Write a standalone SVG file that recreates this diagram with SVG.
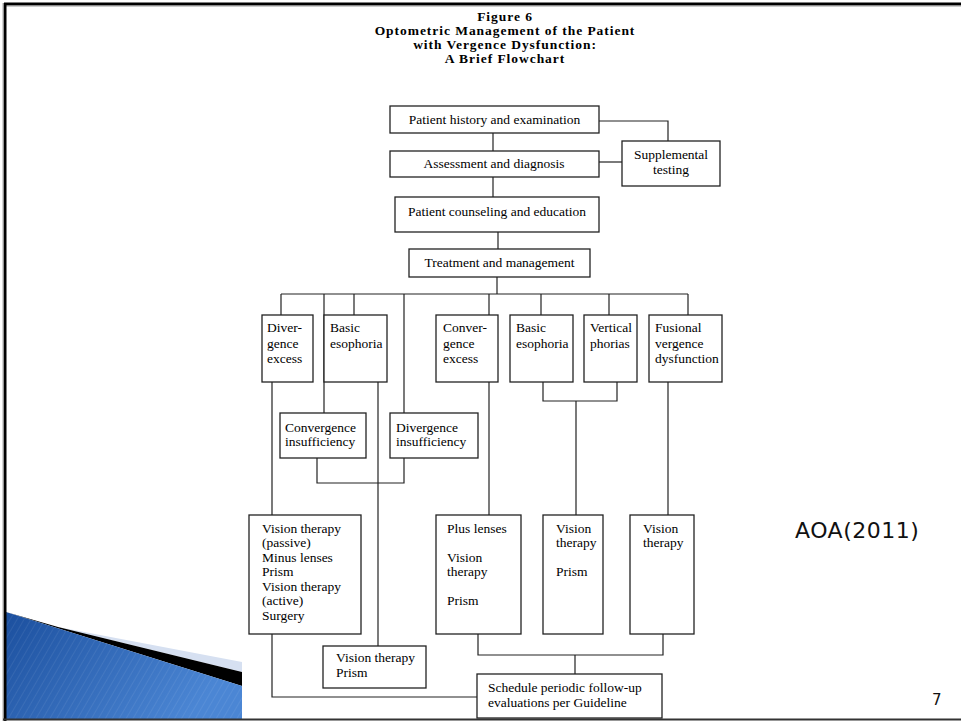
<svg xmlns="http://www.w3.org/2000/svg" width="961" height="722" viewBox="0 0 961 722">
<style>
.box{fill:#fff;stroke:#222;stroke-width:1.3}
.c{fill:none;stroke:#222;stroke-width:1.2}
.t{font-family:"Liberation Serif","Times New Roman",serif;font-size:13.5px;fill:#000}
.m{text-anchor:middle}
.h{font-family:"Liberation Serif","Times New Roman",serif;font-size:13.5px;letter-spacing:0.95px;font-weight:bold;text-anchor:middle;fill:#000}
.s{font-family:"DejaVu Sans",sans-serif;fill:#111}
</style>
<defs>
<linearGradient id="bl" x1="0" y1="0" x2="1" y2="0.4">
<stop offset="0" stop-color="#1b4f9e"/>
<stop offset="1" stop-color="#4b86d4"/>
</linearGradient>
<pattern id="st" width="6" height="6" patternUnits="userSpaceOnUse" patternTransform="rotate(30)">
<line x1="0" y1="0" x2="0" y2="6" stroke="#ffffff" stroke-opacity="0.07" stroke-width="2"/>
</pattern>
</defs>
<rect width="961" height="722" fill="#fff"/>
<g id="decor">
<polygon points="58,627 242,662 242,672" fill="#d6e0f1"/>
<polygon points="6,612 58,627 242,672 242,686" fill="#000"/>
<polygon points="6,612 242,686 242,719 6,719" fill="url(#bl)"/>
<polygon points="6,612 242,686 242,719 6,719" fill="url(#st)"/>
<line x1="4" y1="4" x2="961" y2="4" stroke="#000" stroke-width="3"/>
<line x1="4" y1="6" x2="961" y2="6" stroke="#999" stroke-width="1"/>
<line x1="5" y1="3" x2="5" y2="721" stroke="#000" stroke-width="3"/>
<line x1="3" y1="3" x2="3" y2="721" stroke="#aaa" stroke-width="1"/>
<line x1="3" y1="719.5" x2="961" y2="719.5" stroke="#333" stroke-width="2"/>
</g>
<g id="title">
<text class="h" x="505" y="21">Figure 6</text>
<text class="h" x="505" y="35">Optometric Management of the Patient</text>
<text class="h" x="505" y="49">with Vergence Dysfunction:</text>
<text class="h" x="505" y="63">A Brief Flowchart</text>
</g>
<g id="connectors">
<path class="c" d="M493,133V151"/>
<path class="c" d="M599,121H668V141"/>
<path class="c" d="M599,162H622"/>
<path class="c" d="M493,177V197"/>
<path class="c" d="M498,232V249"/>
<path class="c" d="M497,277V294"/>
<path class="c" d="M281,294H688"/>
<path class="c" d="M281,294V315M324,294V413M354,294V315M404,294V413M489,294V315M541,294V315M609,294V315M688,294V315"/>
<path class="c" d="M272,382V515M272,634V697H477"/>
<path class="c" d="M378,382V646"/>
<path class="c" d="M317,458V483H404V458"/>
<path class="c" d="M489,382V515"/>
<path class="c" d="M543,382V401H617V382M576,401V515"/>
<path class="c" d="M668,382V515"/>
<path class="c" d="M478,634V655H663V634M575,655V674"/>
</g>
<g id="n-history"><rect class="box" x="390" y="106" width="209" height="27"/><text class="t m" x="494.5" y="124">Patient history and examination</text></g>
<g id="n-assessment"><rect class="box" x="390" y="151" width="209" height="26"/><text class="t m" x="494" y="168">Assessment and diagnosis</text></g>
<g id="n-supplemental"><rect class="box" x="622" y="141" width="98" height="45"/><text class="t m" x="671" y="159">Supplemental</text><text class="t m" x="671" y="174">testing</text></g>
<g id="n-counseling"><rect class="box" x="395" y="197" width="204" height="35"/><text class="t m" x="497" y="216">Patient counseling and education</text></g>
<g id="n-treatment"><rect class="box" x="409" y="249" width="181" height="28"/><text class="t m" x="499.5" y="267">Treatment and management</text></g>
<g id="n-div-excess"><rect class="box" x="262" y="315" width="51" height="67"/><text class="t" x="267" y="332">Diver-</text><text class="t" x="267" y="348">gence</text><text class="t" x="267" y="363">excess</text></g>
<g id="n-basic-eso-1"><rect class="box" x="324" y="315" width="63" height="67"/><text class="t" x="330" y="332">Basic</text><text class="t" x="330" y="348">esophoria</text></g>
<g id="n-conv-excess"><rect class="box" x="436" y="315" width="62" height="67"/><text class="t" x="443" y="332">Conver-</text><text class="t" x="443" y="348">gence</text><text class="t" x="443" y="363">excess</text></g>
<g id="n-basic-eso-2"><rect class="box" x="510" y="315" width="63" height="67"/><text class="t" x="516" y="332">Basic</text><text class="t" x="516" y="348">esophoria</text></g>
<g id="n-vertical"><rect class="box" x="584" y="315" width="53" height="67"/><text class="t" x="590" y="332">Vertical</text><text class="t" x="590" y="348">phorias</text></g>
<g id="n-fusional"><rect class="box" x="649" y="315" width="73" height="67"/><text class="t" x="655" y="332">Fusional</text><text class="t" x="655" y="348">vergence</text><text class="t" x="655" y="363">dysfunction</text></g>
<g id="n-conv-insuff"><rect class="box" x="280" y="413" width="86" height="45"/><text class="t" x="285" y="432">Convergence</text><text class="t" x="285" y="446">insufficiency</text></g>
<g id="n-div-insuff"><rect class="box" x="390" y="413" width="88" height="45"/><text class="t" x="396" y="432">Divergence</text><text class="t" x="396" y="446">insufficiency</text></g>
<g id="n-vt-passive"><rect class="box" x="249" y="515" width="112" height="119"/>
<text class="t" x="262" y="533">Vision therapy</text><text class="t" x="262" y="547">(passive)</text><text class="t" x="262" y="562">Minus lenses</text><text class="t" x="262" y="576">Prism</text><text class="t" x="262" y="591">Vision therapy</text><text class="t" x="262" y="605">(active)</text><text class="t" x="262" y="620">Surgery</text></g>
<g id="n-vt-prism-low"><rect class="box" x="323" y="646" width="103" height="42"/><text class="t" x="336" y="662">Vision therapy</text><text class="t" x="336" y="677">Prism</text></g>
<g id="n-plus"><rect class="box" x="436" y="515" width="85" height="119"/><text class="t" x="447" y="533">Plus lenses</text><text class="t" x="447" y="562">Vision</text><text class="t" x="447" y="576">therapy</text><text class="t" x="447" y="605">Prism</text></g>
<g id="n-vt-prism"><rect class="box" x="543" y="515" width="60" height="119"/><text class="t" x="556" y="533">Vision</text><text class="t" x="556" y="547">therapy</text><text class="t" x="556" y="576">Prism</text></g>
<g id="n-vt"><rect class="box" x="630" y="515" width="64" height="119"/><text class="t" x="643" y="533">Vision</text><text class="t" x="643" y="547">therapy</text></g>
<g id="n-schedule"><rect class="box" x="477" y="674" width="185" height="44"/><text class="t" x="488" y="692">Schedule periodic follow-up</text><text class="t" x="488" y="707">evaluations per Guideline</text></g>
<text class="s" x="795" y="538" font-size="22" letter-spacing="0.5">AOA(2011)</text>
<text class="s" x="932" y="705" font-size="15">7</text>
</svg>
